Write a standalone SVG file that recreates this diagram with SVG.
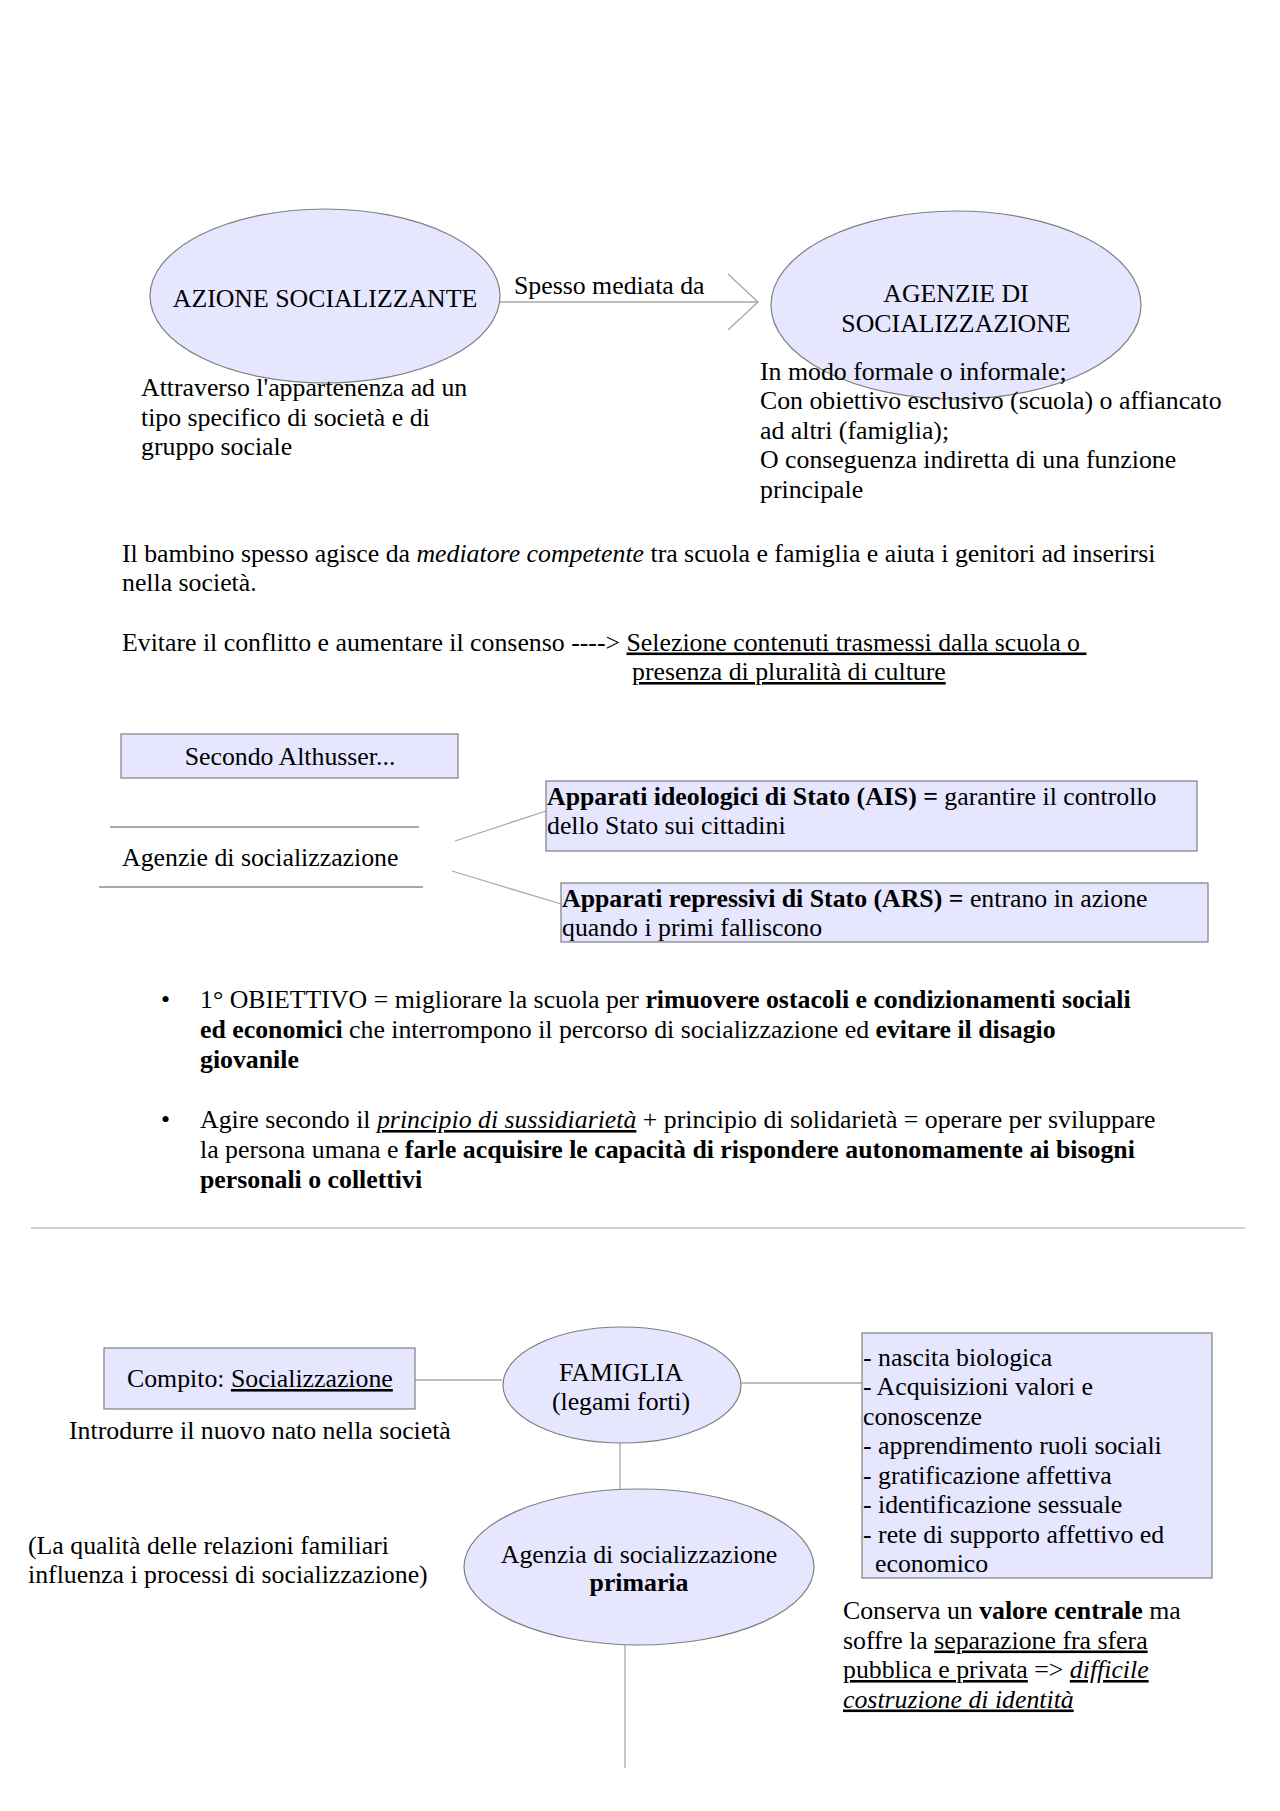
<svg xmlns="http://www.w3.org/2000/svg" width="1280" height="1811" viewBox="0 0 1280 1811">
<defs>
<style>
.t{font-family:"Liberation Serif","Times New Roman",serif;font-size:25.8px;fill:#000}
.m{text-anchor:middle}
.b{font-weight:bold}
.i{font-style:italic}
.u{text-decoration:underline}
.shape{fill:#e6e6ff;stroke:#7f7f7f;stroke-width:1.2}
.conn{fill:none;stroke:#a8a8a8;stroke-width:1.3}
.rule{fill:none;stroke:#555;stroke-width:1}
</style>
<marker id="chev" markerUnits="userSpaceOnUse" markerWidth="34" markerHeight="60" refX="31" refY="29" orient="auto">
<path d="M1,1 L31,29 L1,57" fill="none" stroke="#a8a8a8" stroke-width="1.3"/>
</marker>
</defs>
<rect width="1280" height="1811" fill="#fff"/>

<g id="connectors">
<line class="conn" x1="500" y1="302" x2="758" y2="302" marker-end="url(#chev)"/>
<line class="conn" x1="455" y1="841" x2="546" y2="811"/>
<line class="conn" x1="452" y1="871" x2="561" y2="904"/>
<line class="conn" x1="415" y1="1380" x2="502" y2="1380"/>
<line class="conn" x1="741" y1="1383" x2="862" y2="1383"/>
<line class="conn" x1="620" y1="1443" x2="620" y2="1490"/>
<line class="conn" x1="625" y1="1645" x2="625" y2="1768"/>
</g>

<g id="n-azione">
<ellipse class="shape" cx="325" cy="296" rx="175" ry="87"/>
<text class="t m" x="325" y="307">AZIONE SOCIALIZZANTE</text>
</g>
<g id="l-mediata">
<text class="t" x="514" y="294">Spesso mediata da</text>
</g>
<g id="n-agenzie">
<ellipse class="shape" cx="956" cy="305" rx="185" ry="94"/>
<text class="t m" x="956" y="302">AGENZIE DI</text>
<text class="t m" x="956" y="332">SOCIALIZZAZIONE</text>
</g>
<g id="note-attraverso">
<text class="t" x="141" y="396">Attraverso l'appartenenza ad un</text>
<text class="t" x="141" y="426">tipo specifico di società e di</text>
<text class="t" x="141" y="455">gruppo sociale</text>
</g>
<g id="note-modo">
<text class="t" x="760" y="379.5">In modo formale o informale;</text>
<text class="t" x="760" y="409">Con obiettivo esclusivo (scuola) o affiancato</text>
<text class="t" x="760" y="438.5">ad altri (famiglia);</text>
<text class="t" x="760" y="468">O conseguenza indiretta di una funzione</text>
<text class="t" x="760" y="497.5">principale</text>
</g>

<g id="para-bambino">
<text class="t" x="122" y="561.5">Il bambino spesso agisce da <tspan class="i">mediatore competente</tspan> tra scuola e famiglia e aiuta i genitori ad inserirsi</text>
<text class="t" x="122" y="591">nella società.</text>
<text class="t" x="122" y="650.5">Evitare il conflitto e aumentare il consenso ----&gt; <tspan class="u">Selezione contenuti trasmessi dalla scuola o&#160;</tspan></text>
<text class="t" x="632" y="680"><tspan class="u">presenza di pluralità di culture</tspan></text>
</g>

<g id="n-althusser">
<rect class="shape" x="121" y="734" width="337" height="44"/>
<text class="t m" x="290" y="765">Secondo Althusser...</text>
</g>
<g id="n-agenzie-soc">
<line class="rule" x1="110" y1="827" x2="419" y2="827"/>
<text class="t" x="122" y="866">Agenzie di socializzazione</text>
<line class="rule" x1="99" y1="887" x2="423" y2="887"/>
</g>
<g id="n-ais">
<rect class="shape" x="546" y="781" width="651" height="70"/>
<text class="t" x="547" y="805"><tspan class="b">Apparati ideologici di Stato (AIS) =</tspan> garantire il controllo</text>
<text class="t" x="547" y="834">dello Stato sui cittadini</text>
</g>
<g id="n-ars">
<rect class="shape" x="561" y="883" width="647" height="59"/>
<text class="t" x="562" y="907"><tspan class="b">Apparati repressivi di Stato (ARS) =</tspan> entrano in azione</text>
<text class="t" x="562" y="936">quando i primi falliscono</text>
</g>

<g id="bullets">
<text class="t" x="161" y="1008">•</text>
<text class="t" x="200" y="1008">1° OBIETTIVO = migliorare la scuola per <tspan class="b">rimuovere ostacoli e condizionamenti sociali</tspan></text>
<text class="t" x="200" y="1038"><tspan class="b">ed economici</tspan> che interrompono il percorso di socializzazione ed <tspan class="b">evitare il disagio</tspan></text>
<text class="t b" x="200" y="1068">giovanile</text>
<text class="t" x="161" y="1128">•</text>
<text class="t" x="200" y="1128">Agire secondo il <tspan class="i u">principio di sussidiarietà</tspan> + principio di solidarietà = operare per sviluppare</text>
<text class="t" x="200" y="1158">la persona umana e <tspan class="b">farle acquisire le capacità di rispondere autonomamente ai bisogni</tspan></text>
<text class="t b" x="200" y="1188">personali o collettivi</text>
</g>

<line id="divider" x1="31" y1="1228" x2="1245" y2="1228" stroke="#a0a0a0" stroke-width="1"/>

<g id="n-compito">
<rect class="shape" x="104" y="1348" width="311" height="61"/>
<text class="t" x="127" y="1387">Compito: <tspan class="u">Socializzazione</tspan></text>
</g>
<g id="note-introdurre">
<text class="t" x="69" y="1438.5">Introdurre il nuovo nato nella società</text>
</g>
<g id="n-famiglia">
<ellipse class="shape" cx="622" cy="1385" rx="119" ry="58"/>
<text class="t m" x="621" y="1381">FAMIGLIA</text>
<text class="t m" x="621" y="1410">(legami forti)</text>
</g>
<g id="n-funzioni">
<rect class="shape" x="862" y="1333" width="350" height="245"/>
<text class="t" x="863" y="1365.5">- nascita biologica</text>
<text class="t" x="863" y="1395">- Acquisizioni valori e</text>
<text class="t" x="863" y="1424.5">conoscenze</text>
<text class="t" x="863" y="1454">- apprendimento ruoli sociali</text>
<text class="t" x="863" y="1483.5">- gratificazione affettiva</text>
<text class="t" x="863" y="1513">- identificazione sessuale</text>
<text class="t" x="863" y="1542.5">- rete di supporto affettivo ed</text>
<text class="t" x="875" y="1572">economico</text>
</g>
<g id="note-qualita">
<text class="t" x="28" y="1553.5">(La qualità delle relazioni familiari</text>
<text class="t" x="28" y="1583">influenza i processi di socializzazione)</text>
</g>
<g id="n-primaria">
<ellipse class="shape" cx="639" cy="1567" rx="175" ry="78"/>
<text class="t m" x="639" y="1562.5">Agenzia di socializzazione</text>
<text class="t m b" x="639" y="1590.5">primaria</text>
</g>
<g id="note-conserva">
<text class="t" x="843" y="1619">Conserva un <tspan class="b">valore centrale</tspan> ma</text>
<text class="t" x="843" y="1648.5">soffre la <tspan class="u">separazione fra sfera</tspan></text>
<text class="t" x="843" y="1678"><tspan class="u">pubblica e privata</tspan> =&gt; <tspan class="i u">difficile</tspan></text>
<text class="t" x="843" y="1707.5"><tspan class="i u">costruzione di identità</tspan></text>
</g>
</svg>
